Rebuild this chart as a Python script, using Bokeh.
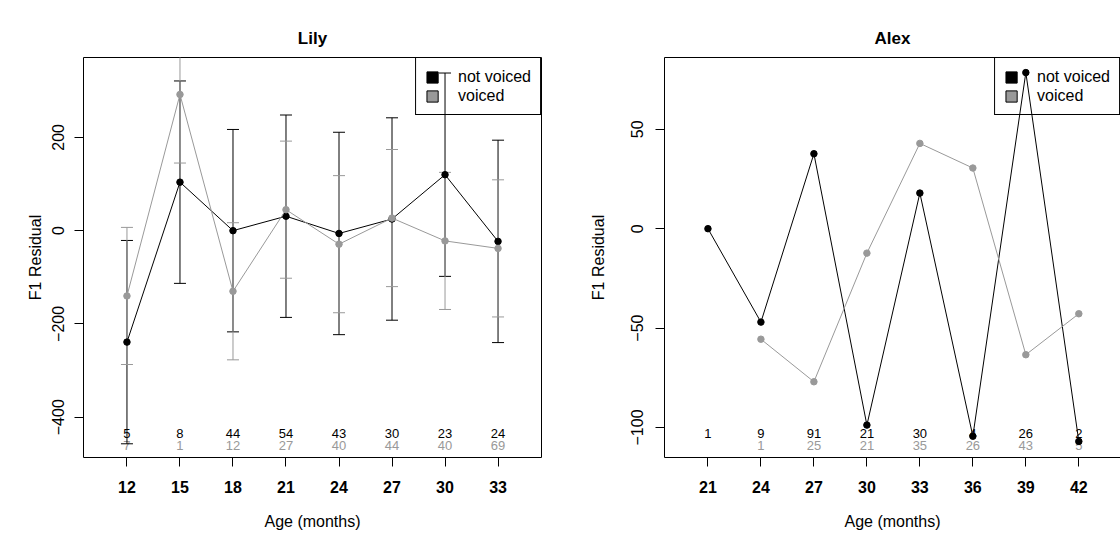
import math
from bokeh.plotting import figure
from bokeh.layouts import row
from bokeh.models import (ColumnDataSource, FixedTicker, Legend, LegendItem,
                          LinearAxis, Range1d)
from bokeh.embed import file_html
from bokeh.resources import INLINE
from bokeh.core.properties import value

FONT = "Liberation Sans"
GREY = "#999999"
NAN = float("nan")

# ---------------- data ----------------
lily_age = [12, 15, 18, 21, 24, 27, 30, 33]
lily_nv_mean = [-239, 104, 0, 31, -6, 25, 120, -23]
lily_v_mean = [-140, 292, -130, 45, -29, 27, -22, -38]
lily_nv_err = [218, 217, 217, 217, 217, 217, 218, 217]
lily_v_err = [147, 147, 147, 147, 147, 147, 147, 147]
lily_nv_n = [5, 8, 44, 54, 43, 30, 23, 24]
lily_v_n = [7, 1, 12, 27, 40, 44, 40, 69]
lily_yticks = [-400, -200, 0, 200]

alex_age = [21, 24, 27, 30, 33, 36, 39, 42]
alex_nv_mean = [0, -47, 37.7, -98.8, 17.9, -104.4, 78.5, -107]
alex_v_mean = [NAN, -55.6, -77, -12.3, 42.9, 30.5, -63.4, -42.8]
alex_nv_n = [1, 9, 91, 21, 30, 4, 26, 2]
alex_v_n = [None, 1, 25, 21, 35, 26, 43, 5]
alex_yticks = [-100, -50, 0, 50]

series_labels = ["not voiced", "voiced"]


def make_panel(title, ages, nv_mean, v_mean, nv_n, v_n, yticks, xr, yr,
               min_left, min_right, nv_err=None, v_err=None, full_box=True,
               tick_standoff=6, ylab_standoff=8):
    p = figure(width=560, height=537, output_backend="svg", toolbar_location=None,
               x_range=Range1d(*xr), y_range=Range1d(*yr),
               min_border_left=min_left, min_border_right=min_right,
               min_border_top=57, min_border_bottom=80, title=title)
    p.background_fill_color = "white"
    p.border_fill_color = "white"
    p.grid.grid_line_color = None

    p.title.align = "center"
    p.title.text_font = FONT
    p.title.text_font_size = "17px"
    p.title.text_font_style = "bold"
    p.title.text_color = "black"
    p.title.padding = 5

    xa = p.xaxis[0]
    xa.ticker = FixedTicker(ticks=ages)
    xa.axis_label = "Age (months)"
    ya = p.yaxis[0]
    ya.ticker = FixedTicker(ticks=yticks)
    ya.axis_label = "F1 Residual"
    ya.major_label_orientation = "vertical"
    for ax in (xa, ya):
        ax.major_tick_in = 0
        ax.major_tick_out = 9
        ax.minor_tick_line_color = None
        ax.major_tick_line_color = "black"
        ax.axis_label_text_font = FONT
        ax.axis_label_text_font_size = "16px"
        ax.axis_label_text_font_style = "normal"
        ax.axis_label_text_color = "black"
        ax.major_label_text_font = FONT
        ax.major_label_text_font_size = "16px"
        ax.major_label_text_color = "black"
    xa.major_label_text_font_style = "bold"
    xa.major_label_standoff = 14
    xa.axis_label_standoff = 17
    ya.major_label_standoff = tick_standoff
    ya.axis_label_standoff = ylab_standoff

    if full_box:
        p.outline_line_color = "black"
        p.outline_line_alpha = 1
        p.outline_line_width = 1
        xa.axis_line_color = None
        ya.axis_line_color = None
    else:
        p.outline_line_color = None
        xa.axis_line_color = "black"
        ya.axis_line_color = "black"
        top = LinearAxis(ticker=FixedTicker(ticks=[]), axis_line_color="black",
                         major_tick_line_color=None, minor_tick_line_color=None,
                         major_label_text_font_size="0px")
        p.add_layout(top, "above")

    # count labels near the bottom of the plot region
    y0, y1 = yr
    y_nv_lab = y0 + 0.060 * (y1 - y0)
    y_v_lab = y0 + 0.029 * (y1 - y0)
    p.text(x=ages, y=[y_nv_lab] * len(ages), text=[str(n) for n in nv_n],
           text_align="center", text_baseline="middle", text_font=value(FONT),
           text_font_size="13px", text_color="black")
    p.text(x=ages, y=[y_v_lab] * len(ages),
           text=["" if n is None else str(n) for n in v_n],
           text_align="center", text_baseline="middle", text_font=value(FONT),
           text_font_size="13px", text_color=GREY)

    # error bars
    for mean, err, col in ((nv_mean, nv_err, "black"), (v_mean, v_err, GREY)):
        if err is None:
            continue
        lo = [m - e for m, e in zip(mean, err)]
        hi = [m + e for m, e in zip(mean, err)]
        p.segment(x0=ages, y0=lo, x1=ages, y1=hi, line_color=col, line_width=1)
        p.scatter(x=ages + ages, y=lo + hi, marker="dash", size=12,
                  line_color=col, line_width=1)

    # series
    p.line(ages, nv_mean, line_color="black", line_width=1)
    p.scatter(ages, nv_mean, size=6.5, fill_color="black", line_color="black")
    p.line(ages, v_mean, line_color=GREY, line_width=1)
    p.scatter(ages, v_mean, size=6.5, fill_color=GREY, line_color=GREY)

    # legend (square swatches)
    r_nv = p.block(x=ages, y=nv_mean, width=0, height=0, fill_color="black",
                   line_color="black", visible=False)
    r_v = p.block(x=ages, y=nv_mean, width=0, height=0, fill_color=GREY,
                  line_color="black", visible=False)
    leg = Legend(items=[LegendItem(label=series_labels[0], renderers=[r_nv]),
                        LegendItem(label=series_labels[1], renderers=[r_v])],
                 location="top_right", margin=0, padding=9, spacing=0,
                 glyph_width=14, glyph_height=14, label_height=19,
                 label_standoff=19, label_text_font=FONT,
                 label_text_font_size="16px", label_text_color="black",
                 border_line_color="black", border_line_width=1,
                 border_line_alpha=1, background_fill_alpha=0)
    p.add_layout(leg)
    return p


p1 = make_panel("Lily", lily_age, lily_nv_mean, lily_v_mean, lily_nv_n, lily_v_n,
                lily_yticks, (9.54, 35.46), (-486.4, 371.3), 83, 19,
                nv_err=lily_nv_err, v_err=lily_v_err, full_box=True,
                tick_standoff=10, ylab_standoff=6)
p2 = make_panel("Alex", alex_age, alex_nv_mean, alex_v_mean, alex_nv_n, alex_v_n,
                alex_yticks, (18.54, 44.36), (-115.1, 86.1), 104, 0,
                full_box=False, tick_standoff=12, ylab_standoff=22)

layout = row(p1, p2)
open("out.html", "w").write(file_html(layout, INLINE))
